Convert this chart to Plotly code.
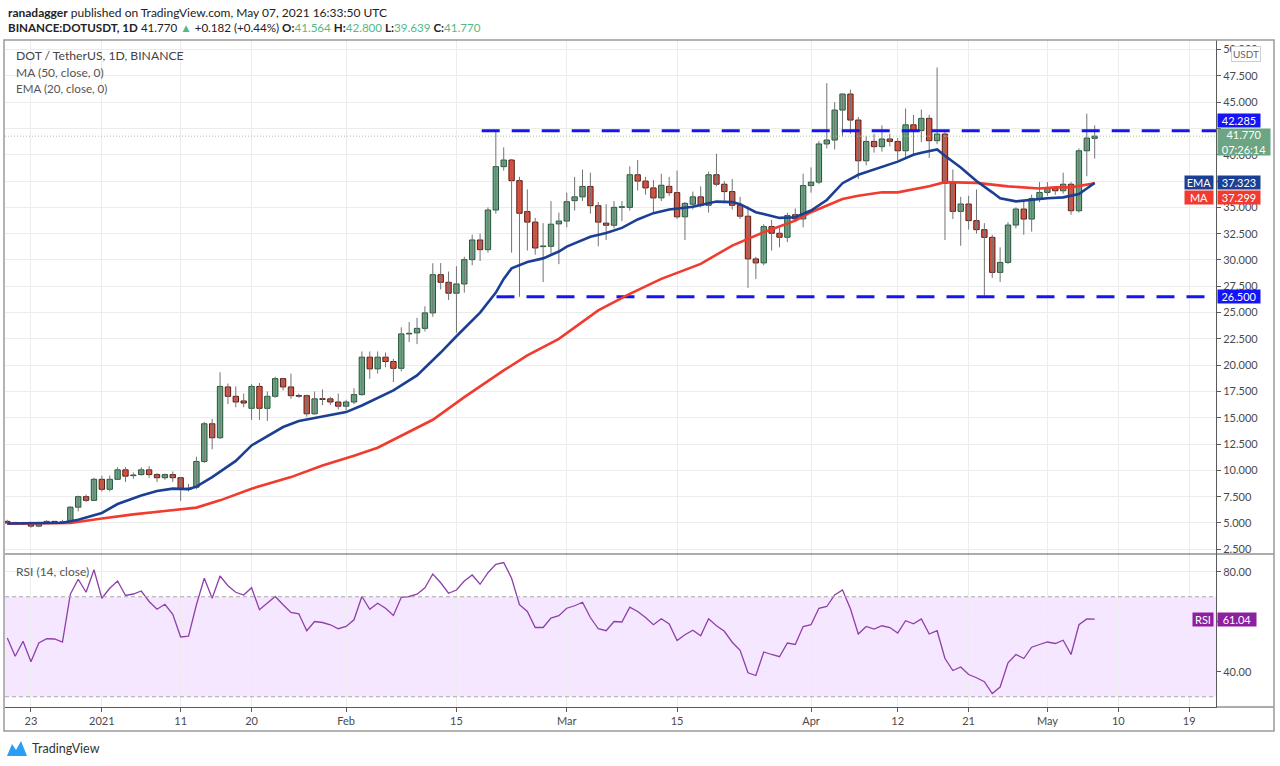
import pandas as pd
import plotly.graph_objects as go

# ---------------- data ----------------
start_date = "2020-12-20"

opens = [5.15, 5.05, 4.9, 5.05, 4.7, 5.0, 5.15, 5.05, 5.1, 6.5,
         7.5, 7.15, 9.15, 8.2, 9.15, 10.05, 9.5, 9.6, 10.05, 9.6,
         9.3, 9.6, 9.3, 8.2, 8.4, 10.85, 14.43, 13.1, 17.93, 17.04,
         16.6, 15.9, 17.98, 15.9, 17.04, 18.72, 17.93, 17.1, 17.1, 15.38,
         16.8, 16.8, 16.5, 16.1, 16.5, 17.2, 20.76, 19.65, 20.76, 20.35,
         19.7, 22.97, 23.07, 23.5, 24.97, 28.6, 27.88, 26.84, 27.72, 30.03,
         31.9, 30.98, 34.75, 38.87, 39.5, 37.54, 34.6, 33.6, 31.27, 31.3,
         33.43, 33.7, 35.64, 36.0, 36.99, 35.16, 33.5, 33.3, 35.0, 35.0,
         38.1, 37.5, 36.85, 35.9, 37.0, 36.4, 34.1, 35.3, 36.0, 35.2,
         38.1, 37.2, 36.5, 35.2, 34.16, 30.1, 29.72, 33.17, 32.54, 32.16,
         34.3, 33.9, 37.07, 37.4, 41.03, 41.4, 44.25, 45.77, 43.3, 39.43,
         41.27, 40.77, 41.5, 41.27, 40.38, 42.85, 42.3, 43.46, 41.34, 41.97,
         37.28, 34.62, 35.32, 33.74, 32.88, 32.15, 28.82, 29.77, 33.32, 34.84,
         33.89, 35.85, 36.42, 36.8, 36.58, 37.2, 34.68, 40.38, 41.564]

highs = [5.3, 5.1, 5.1, 5.1, 5.1, 5.25, 5.2, 5.3, 6.6, 7.6,
         7.7, 9.3, 9.5, 9.5, 10.3, 10.3, 9.8, 10.3, 10.4, 9.75,
         9.7, 9.9, 9.35, 8.7, 11.3, 14.6, 14.9, 19.33, 18.25, 17.98,
         17.3, 18.2, 18.3, 17.5, 18.9, 18.8, 19.2, 17.3, 17.2, 17.5,
         17.7, 17.0, 17.3, 16.7, 17.8, 21.3, 21.3, 21.3, 21.2, 20.6,
         23.6, 24.1, 24.5, 25.6, 29.69, 29.7, 28.9, 29.4, 30.3, 32.4,
         32.5, 35.0, 42.28, 40.7, 39.6, 37.9, 36.7, 34.0, 33.5, 35.6,
         34.5, 36.4, 37.9, 38.6, 38.3, 35.5, 35.3, 35.6, 35.6, 38.9,
         39.5, 37.9, 37.6, 38.2, 37.9, 38.5, 35.5, 36.5, 37.0, 38.4,
         40.1, 37.5, 37.7, 36.0, 35.1, 30.3, 33.4, 33.8, 33.1, 34.5,
         34.9, 38.2, 38.8, 41.3, 46.8, 45.0, 45.83, 46.2, 43.6, 41.8,
         42.0, 42.8, 42.0, 41.6, 44.4, 43.8, 44.3, 43.8, 48.3, 42.2,
         38.6, 36.0, 36.1, 36.7, 33.5, 32.4, 31.2, 33.6, 35.0, 35.6,
         36.2, 37.4, 37.4, 37.0, 38.3, 37.4, 40.6, 43.9, 42.8]

lows = [4.95, 4.8, 4.8, 4.55, 4.6, 4.95, 4.95, 4.95, 5.05, 6.1,
        7.0, 7.1, 8.0, 8.0, 9.1, 8.9, 9.2, 9.5, 9.3, 8.9,
        9.1, 8.9, 7.1, 8.0, 8.2, 10.7, 12.0, 13.0, 16.3, 16.0,
        16.0, 14.8, 14.8, 14.7, 16.9, 17.6, 16.8, 16.9, 15.1, 15.3,
        16.2, 16.2, 15.8, 15.7, 16.3, 17.1, 18.7, 19.2, 19.8, 18.4,
        19.4, 22.2, 22.0, 23.2, 24.6, 27.2, 26.2, 23.07, 26.9, 29.5,
        29.9, 30.7, 34.4, 38.5, 30.7, 26.5, 30.9, 30.5, 27.9, 30.6,
        29.6, 33.1, 34.7, 35.6, 34.4, 31.3, 31.9, 33.0, 33.7, 34.7,
        36.6, 36.2, 34.5, 35.6, 36.1, 33.9, 31.9, 34.8, 35.0, 34.5,
        37.0, 35.4, 34.8, 33.9, 27.35, 28.2, 29.5, 30.9, 31.2, 31.7,
        33.6, 33.1, 36.4, 37.2, 40.6, 40.5, 41.7, 42.0, 37.7, 39.0,
        40.2, 40.3, 40.8, 39.5, 39.7, 40.0, 41.2, 39.7, 41.0, 31.9,
        33.9, 31.35, 32.9, 32.5, 26.6, 28.3, 27.9, 29.6, 33.0, 32.4,
        32.7, 35.5, 36.1, 36.2, 36.3, 34.3, 34.5, 37.96, 39.639]

closes = [5.0, 4.9, 5.0, 4.7, 5.0, 5.15, 5.05, 5.1, 6.5, 7.5,
          7.15, 9.15, 8.2, 9.15, 10.05, 9.45, 9.55, 10.05, 9.6, 9.3,
          9.6, 9.3, 8.2, 8.3, 10.85, 14.43, 13.1, 17.98, 17.04, 16.5,
          16.4, 17.98, 15.9, 17.04, 18.72, 17.93, 17.1, 17.05, 15.38, 16.8,
          16.75, 16.5, 16.1, 16.5, 17.2, 20.76, 19.65, 20.76, 20.35, 19.7,
          22.97, 23.03, 23.5, 24.97, 28.6, 27.88, 26.84, 27.72, 30.03, 31.9,
          30.98, 34.75, 38.87, 39.5, 37.54, 34.44, 33.6, 31.14, 31.3, 33.4,
          33.7, 35.54, 36.0, 36.99, 35.16, 33.6, 33.3, 35.0, 35.05, 38.1,
          37.5, 36.85, 35.9, 37.1, 36.4, 34.1, 35.38, 36.0, 35.2, 38.1,
          37.2, 36.5, 35.2, 34.16, 30.1, 29.72, 33.17, 32.54, 32.16, 34.22,
          33.9, 37.07, 37.4, 41.03, 41.4, 44.25, 45.77, 43.3, 39.43, 41.27,
          40.77, 41.5, 41.27, 40.38, 42.85, 42.3, 43.46, 41.34, 41.97, 37.28,
          34.62, 35.32, 33.74, 32.88, 32.15, 28.82, 29.77, 33.32, 34.84, 33.89,
          35.85, 36.42, 36.8, 36.58, 37.2, 34.68, 40.38, 41.588, 41.77]

rsi_values = [53.5, 46.2, 52.2, 44.0, 51.5, 53.2, 53.1, 51.9, 71.0, 77.0,
              71.8, 80.8, 69.4, 73.4, 76.3, 70.5, 71.1, 72.3, 68.1, 65.0,
              67.0, 63.0, 53.9, 54.2, 66.8, 77.4, 69.4, 78.3, 74.4, 71.8,
              70.7, 73.6, 64.8, 67.4, 70.1, 66.8, 63.7, 63.2, 56.4, 60.1,
              59.7, 58.8, 57.2, 58.1, 60.8, 70.1, 65.0, 67.4, 65.4, 62.5,
              69.8, 70.1, 71.0, 73.6, 79.1, 75.6, 71.4, 72.7, 76.3, 78.7,
              75.0, 79.6, 83.0, 83.7, 77.4, 66.8, 64.1, 57.7, 57.7, 61.5,
              62.4, 65.4, 66.4, 67.8, 61.7, 57.2, 56.4, 60.1, 59.9, 65.8,
              64.1, 61.7, 58.8, 61.2, 59.1, 52.5, 54.8, 56.6, 54.4, 61.2,
              58.4, 56.2, 51.8, 48.6, 39.6, 38.5, 47.9, 46.9, 46.0, 51.5,
              50.9, 58.1, 58.8, 65.4, 66.1, 70.7, 72.7, 65.2, 55.1, 58.1,
              57.1, 58.4, 57.7, 55.5, 60.4, 59.2, 61.1, 55.1, 56.4, 45.3,
              40.5, 41.9, 38.9, 37.6, 36.0, 31.3, 33.9, 43.6, 46.9, 45.3,
              49.8, 50.9, 51.9, 51.3, 52.6, 46.9, 58.8, 61.1, 61.04]

# EMA(20) and MA(50) values (day number from start_date)
ema_day = [0, 4, 7, 9, 12, 14, 17, 19, 21, 23, 24, 26, 29, 31, 35, 37, 40, 43, 45, 47,
           49, 52, 55, 57, 58, 60, 62, 63, 64, 66, 68, 70, 71, 74, 76, 78, 80, 82, 84, 87,
           89, 90, 92, 93, 95, 98, 100, 102, 104, 106, 108, 110, 113, 115, 116, 118, 119,
           121, 123, 125, 126, 128, 130, 132, 134, 136, 137, 138]
ema_value = [4.95, 4.95, 5.02, 5.3, 5.95, 6.8, 7.6, 8.04, 8.26, 8.22, 8.45, 9.36, 10.9,
             12.37, 14.12, 14.69, 15.13, 15.54, 16.17, 16.9, 17.6, 19.03, 21.2, 22.75,
             23.5, 25.0, 26.9, 28.2, 29.2, 29.8, 30.15, 30.8, 31.27, 32.2, 32.57, 33.05,
             33.85, 34.45, 34.8, 35.05, 35.4, 35.55, 35.5, 35.3, 34.54, 34.0, 34.06, 34.7,
             35.7, 37.3, 38.1, 38.6, 39.35, 40.0, 40.2, 40.5, 39.9, 38.8, 37.5, 36.43,
             35.86, 35.57, 35.73, 35.86, 35.95, 36.27, 36.8, 37.323]
ma_day = [0, 8, 12, 16, 20, 24, 27, 31, 36, 40, 44, 47, 54, 58, 63, 66, 70, 75, 79, 83,
          88, 92, 96, 100, 102, 104, 106, 108, 111, 113, 116, 117, 119, 123, 127, 131,
          133, 135, 138]
ma_value = [4.94, 5.0, 5.42, 5.82, 6.14, 6.46, 7.15, 8.26, 9.36, 10.47, 11.4, 12.15,
            14.81, 16.96, 19.5, 20.93, 22.5, 25.2, 26.78, 28.2, 29.63, 31.37, 32.63,
            33.74, 34.54, 35.17, 35.8, 36.11, 36.43, 36.43, 36.9, 37.0, 37.4, 37.33,
            37.0, 36.8, 36.9, 36.9, 37.299]

level_values = [42.285, 26.5]
level_starts = ["2021-02-18 05:00", "2021-02-20 02:00"]
last_price = 41.77
ema_last = 37.323
ma_last = 37.299
rsi_last = 61.04
rsi_upper, rsi_lower = 70, 30

price_ticks = [2.5, 5.0, 7.5, 10.0, 12.5, 15.0, 17.5, 20.0, 22.5, 25.0,
               27.5, 30.0, 32.5, 35.0, 37.5, 40.0, 42.5, 45.0, 47.5, 50.0]
# labels that sit fully under the price boxes in the reference are left blank
price_tick_labels = ["2.500", "5.000", "7.500", "10.000", "12.500", "15.000", "17.500",
                     "20.000", "22.500", "25.000", "27.500", "30.000", "32.500", "35.000",
                     "", "40.000", "", "45.000", "47.500", "50.000"]
rsi_ticks = [40, 60, 80]
rsi_tick_labels = ["40.00", "", "80.00"]
date_ticks = ["2020-12-23", "2021-01-01", "2021-01-11", "2021-01-20", "2021-02-01",
              "2021-02-15", "2021-03-01", "2021-03-15", "2021-04-01", "2021-04-12",
              "2021-04-21", "2021-05-01", "2021-05-10", "2021-05-19"]
date_tick_labels = ["23", "2021", "11", "20", "Feb", "15", "Mar", "15", "Apr", "12",
                    "21", "May", "10", "19"]
x_range = ["2020-12-19 17:00", "2021-05-22 09:30"]
price_range = [2.05, 50.91]
rsi_range = [25.9, 87.1]

# ---------------- styling ----------------
UP, DOWN = "#6ba583", "#d75442"
UP_B, DOWN_B = "#225437", "#5b1a13"
WICK = "#737375"
EMA_C, MA_C = "#1b3f93", "#f03b2e"
LEVEL_C = "#1414f5"
RSI_C = "#8e3fa8"
GRID = "#ececec"
AX = "#5a5a5a"
FONT = "Lato, 'Open Sans', sans-serif"

W, H = 1280, 766
L_PX, R_PX, T_PX, B_PX = 5, 1216, 40, 707
SPLIT_PX = 554


def xp(px):
    return (px - L_PX) / (R_PX - L_PX)


def yp(py):
    return (B_PX - py) / (B_PX - T_PX)


split = yp(SPLIT_PX)

dates = pd.date_range(start_date, periods=len(closes), freq="D")
up = [c >= o for o, c in zip(opens, closes)]
body_base = [min(o, c) for o, c in zip(opens, closes)]
body_h = [max(abs(c - o), 0.06) for o, c in zip(opens, closes)]

wx, wy = [], []
for d, lo, hi in zip(dates, lows, highs):
    wx += [d, d, None]
    wy += [lo, hi, None]

fig = go.Figure()

# wicks
fig.add_trace(go.Scatter(x=wx, y=wy, mode="lines", line=dict(color=WICK, width=1),
                         hoverinfo="skip", yaxis="y"))
# bodies
fig.add_trace(go.Bar(x=dates, y=body_h, base=body_base, width=0.68 * 86400000,
                     marker=dict(color=[UP if u else DOWN for u in up],
                                 line=dict(color=[UP_B if u else DOWN_B for u in up], width=1)),
                     hoverinfo="skip", yaxis="y"))

# horizontal levels
for lv, ls in zip(level_values, level_starts):
    fig.add_trace(go.Scatter(x=[ls, x_range[1]], y=[lv, lv], mode="lines",
                             line=dict(color=LEVEL_C, width=3, dash="18px,12px"),
                             hoverinfo="skip", yaxis="y"))
# last price dotted line
fig.add_trace(go.Scatter(x=x_range, y=[last_price, last_price], mode="lines",
                         line=dict(color="#a9c49c", width=1, dash="1px,2px"),
                         hoverinfo="skip", yaxis="y"))

# MA and EMA
fig.add_trace(go.Scatter(x=[dates[i] for i in ma_day], y=ma_value, mode="lines",
                         line=dict(color=MA_C, width=2.6), hoverinfo="skip", yaxis="y"))
fig.add_trace(go.Scatter(x=[dates[i] for i in ema_day], y=ema_value, mode="lines",
                         line=dict(color=EMA_C, width=2.6), hoverinfo="skip", yaxis="y"))

# RSI
fig.add_trace(go.Scatter(x=dates, y=rsi_values, mode="lines",
                         line=dict(color=RSI_C, width=1.3), hoverinfo="skip", yaxis="y2"))

shapes = [
    # RSI band
    dict(type="rect", xref="paper", yref="y2", x0=0, x1=1, y0=rsi_lower, y1=rsi_upper,
         fillcolor="rgba(153,21,255,0.10)", line=dict(width=0), layer="below"),
    dict(type="line", xref="paper", yref="y2", x0=0, x1=1, y0=rsi_upper, y1=rsi_upper,
         line=dict(color="#a8a8a8", width=1, dash="4px,3px")),
    dict(type="line", xref="paper", yref="y2", x0=0, x1=1, y0=rsi_lower, y1=rsi_lower,
         line=dict(color="#a8a8a8", width=1, dash="4px,3px")),
    # pane separator and frame
    dict(type="line", xref="paper", yref="paper", x0=xp(5), x1=xp(1274), y0=split, y1=split,
         line=dict(color=AX, width=1.2)),
    dict(type="line", xref="paper", yref="paper", x0=1, x1=xp(1274), y0=0, y1=0,
         line=dict(color=AX, width=1)),
    dict(type="rect", xref="paper", yref="paper", x0=xp(4), x1=xp(1274), y0=yp(731), y1=yp(40),
         line=dict(color="#9a9a9a", width=1.5)),
    # TradingView logo mark
    dict(type="path", xref="paper", yref="paper",
         path=f"M {xp(7)},{yp(756)} L {xp(12)},{yp(744)} L {xp(16)},{yp(750)} "
              f"L {xp(21)},{yp(741)} L {xp(27)},{yp(756)} Z",
         fillcolor="#2a9df4", line=dict(width=0)),
]

ann = []


def text(px, py, s, size=12, color="#333", anchor="left"):
    ann.append(dict(xref="paper", yref="paper", x=xp(px), y=yp(py), text=s, showarrow=False,
                    xanchor=anchor, yanchor="middle", font=dict(family=FONT, size=size, color=color)))


G = "#53b987"
text(6, 13, "<b>ranadagger</b> published on TradingView.com, May 07, 2021 16:33:50 UTC",
     size=12, color="#222")
text(6, 28, f"<b>BINANCE:DOTUSDT, 1D</b> 41.770 <span style='color:{G}'>▲</span> +0.182 (+0.44%) "
            f"<b>O:</b><span style='color:{G}'>41.564</span> <b>H:</b><span style='color:{G}'>42.800</span> "
            f"<b>L:</b><span style='color:{G}'>39.639</span> <b>C:</b><span style='color:{G}'>41.770</span>",
     size=11.6, color="#222")
text(14, 56, "DOT / TetherUS, 1D, BINANCE", size=12.2, color="#444")
text(14, 72, "MA (50, close, 0)", size=12, color="#555")
text(14, 88, "EMA (20, close, 0)", size=11.6, color="#555")
text(14, 571, "RSI (14, close)", size=12, color="#555")
text(30, 748, "TradingView", size=12.5, color="#333")


def axis_label(value, s, bg, yref="y", yshift=0, width=42, height=13, left=None):
    ann.append(dict(xref="paper", yref=yref, x=1, y=value, xanchor="left", yanchor="middle",
                    xshift=1, yshift=yshift, text=s, showarrow=False, bgcolor=bg,
                    width=width, height=height, borderpad=0, align="center",
                    font=dict(family=FONT, size=11, color="white")))
    if left:
        ann.append(dict(xref="paper", yref=yref, x=1, y=value, xanchor="right", yanchor="middle",
                        xshift=-2, yshift=yshift, text=left, showarrow=False, bgcolor=bg,
                        width=width - 14 if left != "RSI" else 20, height=height, borderpad=0,
                        align="center", font=dict(family=FONT, size=11, color="white")))


axis_label(level_values[0], f"{level_values[0]:.3f}", "#1414f5", yshift=10)
axis_label(last_price, f"{last_price:.3f}<br>07:26:14", UP, yshift=-6, width=52, height=26)
axis_label(ema_last, f"{ema_last:.3f}", EMA_C, left="EMA")
axis_label(ma_last, f"{ma_last:.3f}", MA_C, yshift=-14, left="MA")
axis_label(level_values[1], f"{level_values[1]:.3f}", "#1414f5")
axis_label(rsi_last, f"{rsi_last:.2f}", "#8e1f9e", yref="y2", width=38, left="RSI")

ann.append(dict(xref="paper", yref="paper", x=xp(1246), y=yp(54), text="USDT", showarrow=False,
                xanchor="center", yanchor="middle", bgcolor="white", bordercolor="#cfcfcf",
                borderwidth=1, borderpad=1, font=dict(family=FONT, size=10, color="#666")))

fig.update_layout(
    width=W, height=H,
    margin=dict(l=L_PX, r=W - R_PX, t=T_PX, b=H - B_PX, autoexpand=False),
    paper_bgcolor="white", plot_bgcolor="white", showlegend=False,
    font=dict(family=FONT, size=11, color="#4a4a4a"),
    xaxis=dict(type="date", range=x_range, anchor="y2", tickvals=date_ticks,
               ticktext=date_tick_labels, showgrid=True, gridcolor=GRID, gridwidth=1,
               showline=True, linecolor=AX, linewidth=1, ticks="outside", ticklen=4,
               tickcolor=AX, zeroline=False, tickfont=dict(size=11, color="#4a4a4a")),
    yaxis=dict(domain=[split, 1], range=price_range, side="right", anchor="x",
               tickvals=price_ticks, ticktext=price_tick_labels, showgrid=True, gridcolor=GRID,
               showline=True, linecolor=AX, linewidth=1, ticks="outside", ticklen=4,
               tickcolor=AX, zeroline=False, tickfont=dict(size=11, color="#4a4a4a")),
    yaxis2=dict(domain=[0, split], range=rsi_range, side="right", anchor="x",
                tickvals=rsi_ticks, ticktext=rsi_tick_labels, showgrid=True, gridcolor=GRID,
                showline=True, linecolor=AX, linewidth=1, ticks="outside", ticklen=4,
                tickcolor=AX, zeroline=False, tickfont=dict(size=11, color="#4a4a4a")),
    shapes=shapes, annotations=ann, hovermode=False,
)

fig.write_html("out.html", config={"displayModeBar": False},
               post_script="document.body.style.margin='0';")
